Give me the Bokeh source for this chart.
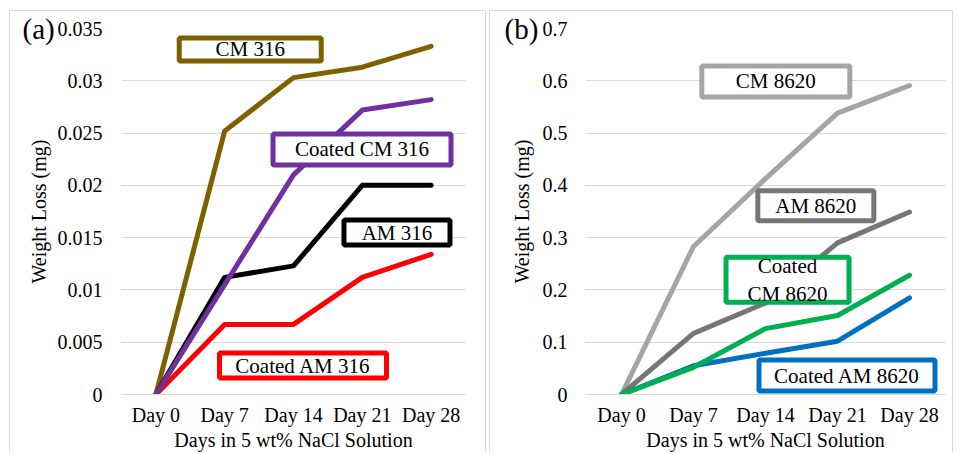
from bokeh.plotting import figure
from bokeh.layouts import row
from bokeh.models import FactorRange, Range1d, FixedTicker, CustomJSTickFormatter, Title
from bokeh.core.properties import value
from bokeh.embed import file_html
from bokeh.resources import INLINE

# ---------------- data ----------------
days = ["Day 0", "Day 7", "Day 14", "Day 21", "Day 28"]

cm_316 = [0, 0.0252, 0.0303, 0.0313, 0.0333]
coated_cm_316 = [0, 0.0105, 0.0210, 0.0272, 0.0282]
am_316 = [0, 0.0112, 0.0123, 0.0200, 0.0200]
coated_am_316 = [0, 0.0067, 0.0067, 0.0112, 0.0134]

cm_8620 = [0, 0.283, 0.413, 0.538, 0.591]
am_8620 = [0, 0.117, 0.175, 0.290, 0.349]
coated_cm_8620 = [0, 0.052, 0.126, 0.151, 0.228]
coated_am_8620 = [0, 0.055, 0.079, 0.102, 0.185]

ticks_316 = [0, 0.005, 0.01, 0.015, 0.02, 0.025, 0.03, 0.035]
ticks_8620 = [0, 0.1, 0.2, 0.3, 0.4, 0.5, 0.6, 0.7]

x_title = "Days in 5 wt% NaCl Solution"
y_title = "Weight Loss (mg)"

# ---------------- styles ----------------
FONT = "Times New Roman"
GRID = "#D9D9D9"
colors_316 = ["#7F6000", "#000000", "#FF0000", "#7030A0"]
colors_8620 = ["#A5A5A5", "#767676", "#0070C0", "#00B050"]

# callout boxes: (text, colour, x synthetic, y data, outer w, outer h) -- layout only
callouts_316 = [
    ("CM 316", "#7F6000", 1.871, 0.0330, 147, 28),
    ("Coated CM 316", "#7030A0", 3.496, 0.02343, 183, 36),
    ("AM 316", "#000000", 4.004, 0.01549, 111, 30),
    ("Coated AM 316", "#FF0000", 2.638, 0.00277, 172, 30),
]
callouts_8620 = [
    ("CM 8620", "#A5A5A5", 2.643, 0.5987, 153, 36),
    ("AM 8620", "#767676", 3.199, 0.3611, 121, 35),
    ("Coated\nCM 8620", "#00B050", 2.806, 0.2195, 128, 50),
    ("Coated AM 8620", "#0070C0", 3.632, 0.0363, 181, 36),
]

BOX_LW = 5
H = 442


def make_panel(series, colors, ticks, callouts, tag, width, mbl, mbr, mbb,
               ylab_standoff, tick_standoff, tag_offset, margin):
    p = figure(width=width, height=H, x_range=FactorRange(factors=days),
               y_range=Range1d(ticks[0], ticks[-1]),
               output_backend="svg", toolbar_location=None,
               min_border_left=mbl, min_border_right=mbr, min_border_top=17,
               min_border_bottom=mbb)
    p.margin = margin
    p.outline_line_color = None
    p.background_fill_color = "white"
    p.border_fill_color = "white"
    p.styles = {"border": "1px solid #D9D9D9", "border-bottom": "none"}

    p.xgrid.grid_line_color = None
    p.ygrid.grid_line_color = GRID
    p.ygrid.grid_line_width = 1

    p.yaxis.ticker = FixedTicker(ticks=ticks)
    p.yaxis.formatter = CustomJSTickFormatter(code="return String(+tick.toFixed(4));")
    for ax in (p.xaxis, p.yaxis):
        ax.major_tick_line_color = None
        ax.minor_tick_line_color = None
        ax.major_tick_out = 0
        ax.major_tick_in = 0
        ax.minor_tick_out = 0
        ax.minor_tick_in = 0
        ax.major_label_text_font = FONT
        ax.major_label_text_font_size = "20px"
        ax.major_label_text_color = "#000000"
        ax.axis_label_text_font = FONT
        ax.axis_label_text_font_size = "20px"
        ax.axis_label_text_font_style = "normal"
        ax.axis_label_text_color = "#000000"
    p.yaxis.axis_line_color = None
    p.xaxis.axis_line_color = GRID
    p.yaxis.major_label_standoff = tick_standoff
    p.xaxis.major_label_standoff = 9
    p.yaxis.axis_label = y_title
    p.yaxis.axis_label_standoff = ylab_standoff
    p.xaxis.axis_label = x_title
    p.xaxis.axis_label_standoff = 0

    for vals, c in zip(series, colors):
        p.line(x=days, y=vals, line_color=c, line_width=5,
               line_join="round", line_cap="round")

    for text, c, cx, cy, w, h in callouts:
        p.rect(x=[cx], y=[cy], width=[w - BOX_LW], height=[h - BOX_LW],
               width_units="screen", height_units="screen",
               fill_color="white", line_color=c, line_width=BOX_LW)
        p.text(x=[cx], y=[cy], text=[text], text_align="center",
               text_baseline="middle", text_font=value(FONT),
               text_font_size=value("21px"), text_color="#000000",
               text_line_height=1.15)

    p.add_layout(Title(text=tag, align="left", offset=tag_offset, standoff=-33,
                       text_font=FONT, text_font_size="29px",
                       text_font_style="normal", text_color="#000000"), "above")
    return p


p1 = make_panel([cm_316, am_316, coated_am_316, coated_cm_316], colors_316,
                ticks_316, callouts_316, "(a)", 477, 111, 22, 59, 5, 19, -99,
                (10, 0, 0, 9))
p2 = make_panel([cm_8620, am_8620, coated_am_8620, coated_cm_8620], colors_8620,
                ticks_8620, callouts_8620, "(b)", 464, 95, 9, 58, 7, 18, -81,
                (10, 0, 0, 3))

layout = row(p1, p2, spacing=0)

open("out.html", "w").write(file_html(layout, INLINE))
